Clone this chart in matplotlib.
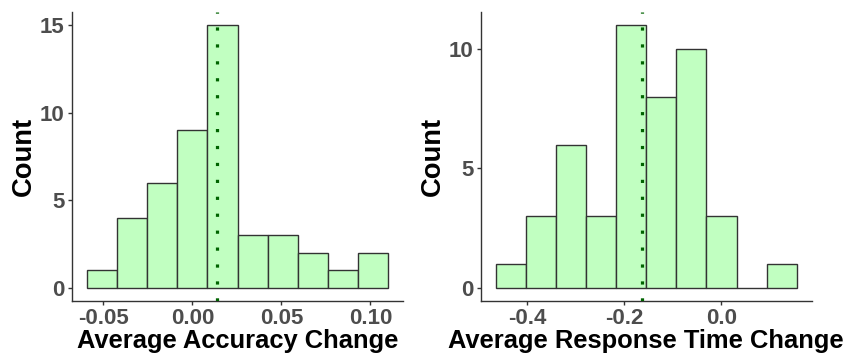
import numpy as np
import matplotlib
matplotlib.use("Agg")
import matplotlib.pyplot as plt

plt.rcParams['font.family'] = ['Liberation Sans', 'DejaVu Sans']

# accuracy change histogram (10 bins)
acc_edges = np.linspace(-0.0593, 0.1100, 11)
acc_counts = [1, 4, 6, 9, 15, 3, 3, 2, 1, 2]
acc_mean = 0.0140

# response time change histogram (10 bins)
rt_edges = np.linspace(-0.465, 0.1556, 11)
rt_counts = [1, 3, 6, 3, 11, 8, 10, 3, 0, 1]
rt_mean = -0.1633

acc_ticks = [-0.05, 0.00, 0.05, 0.10]
acc_ticklabels = ["-0.05", "0.00", "0.05", "0.10"]
rt_ticks = [-0.4, -0.2, 0.0]
rt_ticklabels = ["-0.4", "-0.2", "0.0"]

FILL = "#C1FFC1"
EDGE = "#333333"
TICKCOL = "#4D4D4D"


def panel(ax, edges, counts, mean, xticks, xticklabels, yticks, xlabel):
    edges = np.asarray(edges)
    width = edges[1] - edges[0]
    ax.bar(edges[:-1], counts, width=width, align='edge',
           color=FILL, edgecolor=EDGE, linewidth=1.0, zorder=2)
    ax.axvline(mean, color="#006400", linestyle=(0, (1, 4.3)),
               linewidth=2.3, dash_capstyle='butt', zorder=3)

    span = edges[-1] - edges[0]
    ax.set_xlim(edges[0] - 0.05 * span, edges[-1] + 0.05 * span)
    top = max(counts)
    ax.set_ylim(-0.05 * top, 1.05 * top)

    ax.set_xticks(xticks)
    ax.set_xticklabels(xticklabels)
    ax.set_yticks(yticks)
    ax.tick_params(axis='both', colors=EDGE, labelcolor=TICKCOL,
                   labelsize=16, length=3, width=1.0, pad=2)
    for lab in ax.get_xticklabels() + ax.get_yticklabels():
        lab.set_fontweight('bold')

    for side in ('top', 'right'):
        ax.spines[side].set_visible(False)
    for side in ('left', 'bottom'):
        ax.spines[side].set_color(EDGE)
        ax.spines[side].set_linewidth(1.0)

    ax.set_xlabel(xlabel, fontsize=18.4, fontweight='bold', color='black', labelpad=0)
    ax.set_ylabel("Count", fontsize=19.7, fontweight='bold', color='black', labelpad=2.5)


fig = plt.figure(figsize=(8.59, 3.56), dpi=100)
ax1 = fig.add_axes([0.0835, 0.1553, 0.3860, 0.8101])
ax2 = fig.add_axes([0.5596, 0.1553, 0.3854, 0.8101])

panel(ax1, acc_edges, acc_counts, acc_mean, acc_ticks, acc_ticklabels,
      [0, 5, 10, 15], "Average Accuracy Change")
panel(ax2, rt_edges, rt_counts, rt_mean, rt_ticks, rt_ticklabels,
      [0, 5, 10], "Average Response Time Change")

fig.savefig("out.png", dpi=100)
